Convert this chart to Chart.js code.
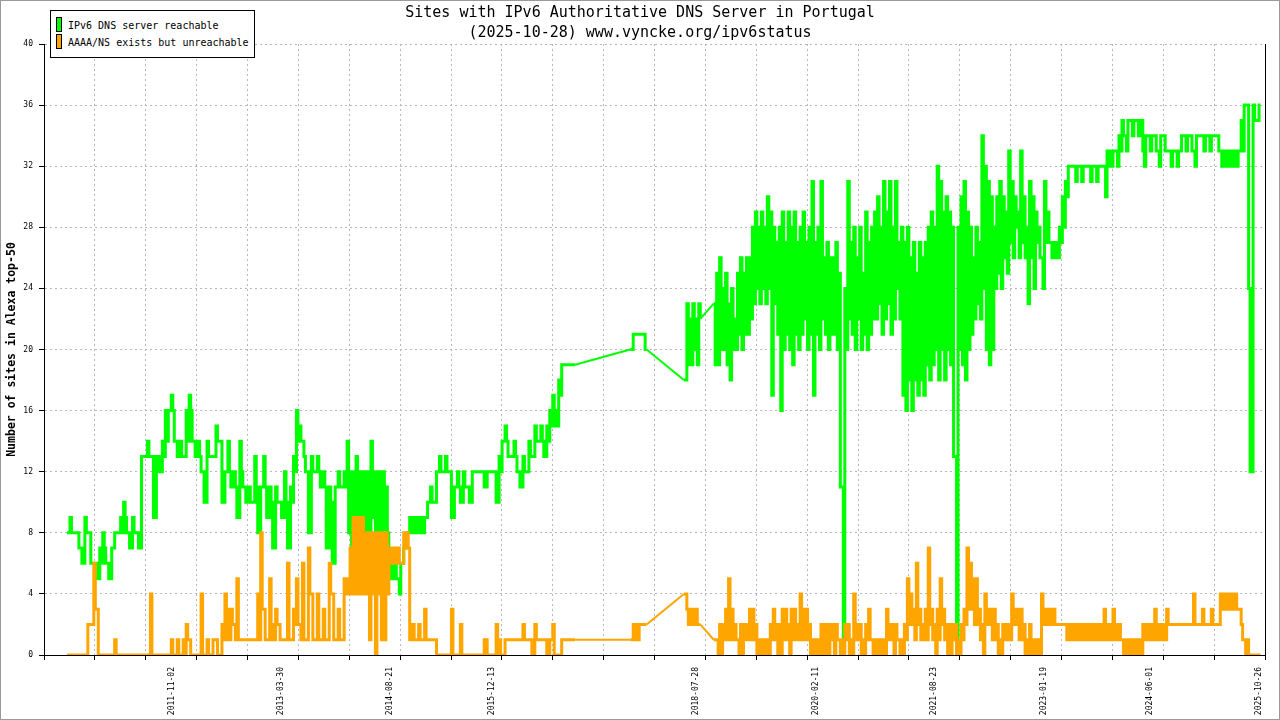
<!DOCTYPE html>
<html>
<head>
<meta charset="utf-8">
<title>Sites with IPv6 Authoritative DNS Server in Portugal</title>
<script src="https://cdn.jsdelivr.net/npm/chart.js"></script>
<style>
  body { margin: 0; background: #fff; }
  #wrap { position: relative; width: 1280px; height: 720px; }
  #frame { position: absolute; left: 0; top: 0; width: 1280px; height: 720px; box-sizing: border-box; border: 1px solid #999; pointer-events: none; }
  #legend { position: absolute; left: 50px; top: 10px; width: 205px; height: 48px; box-sizing: border-box; border: 1px solid #000; background: #fff; font: 10px "DejaVu Sans Mono", monospace; color: #000; }
  .item { position: absolute; left: 5px; height: 15px; line-height: 18px; white-space: nowrap; }
  .sw { display: inline-block; width: 4px; height: 13px; border: 1px solid #000; vertical-align: top; margin-right: 6px; }
</style>
</head>
<body>
<div id="wrap">
  <canvas id="chart" width="1280" height="720"></canvas>
  <div id="legend"></div>
  <div id="frame"></div>
</div>
<script>
// one reading window every 14 days, the last one on sampleEnd;
// highest and lowest count seen in each window, null = no data
const sampleEnd = '2025-10-26';
const sampleStepDays = 14;

const reachableMax = [
  8,9,8,8,7,6,9,8,6,6,
  5,7,8,6,5,7,8,8,9,10,
  8,7,9,8,7,13,13,14,13,9,
  13,12,14,16,16,17,14,13,14,13,
  16,17,14,13,14,12,10,14,13,13,
  15,14,10,12,14,11,12,9,14,11,
  10,11,10,13,8,11,13,9,11,7,
  11,10,9,12,7,11,13,16,15,14,
  12,8,13,12,13,11,12,7,11,6,
  11,12,11,12,14,12,12,13,12,12,
  12,12,14,12,12,12,12,11,6,6,
  6,5,6,7,8,9,9,9,9,9,
  9,10,11,10,12,13,12,13,12,9,
  11,12,10,12,11,10,12,12,12,12,
  11,12,12,12,10,13,14,15,13,13,
  14,12,11,13,12,14,13,15,14,15,
  13,15,16,17,15,18,19,19,19,19,
  19,null,null,null,null,null,null,null,null,null,
  null,null,null,null,null,null,null,null,null,20,
  21,21,21,21,20,null,null,null,null,null,
  null,null,null,null,null,null,null,18,23,22,
  23,22,23,null,null,null,null,23,25,26,
  24,25,23,24,22,25,26,25,26,26,
  28,29,28,29,28,30,29,28,27,28,
  29,27,29,28,29,27,28,29,27,28,
  31,27,28,31,26,27,26,26,27,25,
  11,24,31,27,28,26,28,25,29,27,
  28,29,30,28,31,29,31,28,31,27,
  28,27,28,26,27,25,27,26,27,28,
  29,28,32,31,29,30,29,28,13,28,
  30,31,29,28,26,28,27,34,32,31,
  30,28,30,31,30,29,33,31,30,29,
  33,30,28,31,30,29,28,26,31,29,
  27,27,27,28,30,31,32,32,32,32,
  32,32,32,32,32,32,32,32,32,33,
  33,33,33,34,35,34,35,35,35,35,
  35,33,34,34,34,34,33,34,34,33,
  33,33,33,33,34,34,34,34,33,34,
  34,34,34,34,34,34,34,33,33,33,
  33,33,33,33,35,36,36,12,36,35,
  36
];
const reachableMin = [
  8,8,8,8,7,6,8,8,6,6,
  5,6,7,6,5,7,8,8,8,9,
  8,7,8,8,7,13,13,13,13,9,
  13,12,13,14,16,16,14,13,13,13,
  14,16,14,13,13,12,10,13,13,13,
  14,14,10,12,12,11,11,9,12,11,
  10,10,10,11,8,11,11,9,10,7,
  10,10,9,10,7,10,12,14,14,13,
  12,8,12,12,12,11,11,7,10,6,
  11,11,11,11,8,7,8,7,8,7,
  7,8,9,7,8,7,8,8,5,5,
  5,4,6,7,8,8,8,8,8,8,
  9,10,10,10,12,12,12,12,12,9,
  11,11,10,11,11,10,12,12,12,12,
  11,12,12,12,10,12,14,14,13,13,
  13,12,11,12,12,13,13,14,14,14,
  13,14,15,16,15,17,19,19,19,19,
  19,null,null,null,null,null,null,null,null,null,
  null,null,null,null,null,null,null,null,null,20,
  21,21,21,21,20,null,null,null,null,null,
  null,null,null,null,null,null,null,18,19,19,
  20,19,22,null,null,null,null,19,19,20,
  20,19,18,20,20,21,20,21,21,22,
  23,24,23,24,23,24,17,23,21,16,
  20,21,20,19,21,20,21,22,20,21,
  17,21,20,22,21,20,21,21,20,11,
  1,20,22,21,20,22,20,21,20,21,
  22,22,23,21,22,23,21,22,24,22,
  17,16,18,16,18,17,18,17,19,18,
  19,20,18,20,18,20,19,13,0,20,
  19,18,20,21,22,23,22,24,20,19,
  20,24,25,24,26,25,27,26,28,26,
  27,26,23,26,24,27,26,24,27,27,
  26,26,26,27,28,30,32,32,31,32,
  31,32,32,31,32,31,32,32,30,32,
  32,33,32,33,34,33,35,34,35,34,
  35,32,34,33,34,33,32,34,33,33,
  32,33,32,33,34,33,34,33,32,34,
  34,33,34,33,34,34,33,32,32,32,
  32,32,32,33,33,36,24,12,35,35,
  36
];

const unreachableMax = [
  0,0,0,0,0,0,0,2,2,6,
  3,0,0,0,0,0,1,0,0,0,
  0,0,0,0,0,0,0,0,4,0,
  0,0,0,0,0,1,0,1,0,1,
  2,1,0,0,0,4,0,1,0,1,
  1,0,2,4,1,3,2,5,1,1,
  1,1,1,1,4,8,3,1,5,1,
  3,2,1,1,6,1,3,5,2,6,
  1,7,4,1,4,1,3,1,6,4,
  1,3,1,5,5,7,9,9,9,9,
  8,8,8,8,8,8,8,8,7,7,
  7,7,6,8,8,1,2,1,2,1,
  3,1,1,1,0,0,0,0,0,3,
  0,0,2,0,0,0,0,0,0,0,
  1,0,0,0,2,1,0,1,1,1,
  1,1,1,2,1,1,0,2,1,1,
  1,0,1,2,0,0,1,1,1,1,
  1,null,null,null,null,null,null,null,null,null,
  null,null,null,null,null,null,null,null,null,1,
  2,1,2,2,2,null,null,null,null,null,
  null,null,null,null,null,null,null,4,3,3,
  3,3,2,null,null,null,null,1,1,2,
  2,3,5,3,2,1,2,2,2,3,
  3,2,1,1,1,1,2,3,2,2,
  3,3,2,3,3,2,4,3,3,2,
  1,1,1,2,2,2,2,2,2,1,
  1,2,2,1,4,2,2,1,2,3,
  1,1,1,1,1,3,2,2,2,1,
  1,2,5,4,3,6,3,2,3,7,
  3,2,3,5,3,2,2,2,2,1,
  2,3,7,6,5,5,3,2,4,3,
  3,3,2,1,2,2,2,4,3,3,
  3,2,1,2,1,1,1,4,3,3,
  3,3,2,2,2,2,2,2,2,2,
  2,2,2,2,2,2,2,2,3,2,
  2,3,2,2,1,1,1,1,1,1,
  1,2,2,2,2,3,2,2,2,3,
  2,2,2,2,2,2,2,2,4,2,
  2,3,2,2,3,2,2,4,4,4,
  4,4,4,3,2,1,1,0,0,0,
  0
];
const unreachableMin = [
  0,0,0,0,0,0,0,2,2,3,
  0,0,0,0,0,0,0,0,0,0,
  0,0,0,0,0,0,0,0,0,0,
  0,0,0,0,0,0,0,0,0,0,
  1,0,0,0,0,0,0,0,0,1,
  0,0,1,3,1,2,1,1,1,1,
  1,1,1,1,1,3,1,1,2,1,
  2,1,1,1,1,1,2,2,1,1,
  1,4,1,1,1,1,1,1,4,1,
  1,1,1,4,4,4,4,4,4,4,
  4,1,4,0,4,1,1,4,6,6,
  6,6,6,7,7,1,1,1,1,1,
  1,1,1,1,0,0,0,0,0,0,
  0,0,0,0,0,0,0,0,0,0,
  1,0,0,0,0,0,0,1,1,1,
  1,1,1,1,1,1,0,1,1,1,
  1,0,1,0,0,0,1,1,1,1,
  1,null,null,null,null,null,null,null,null,null,
  null,null,null,null,null,null,null,null,null,1,
  2,1,2,2,2,null,null,null,null,null,
  null,null,null,null,null,null,null,4,2,2,
  2,2,2,null,null,null,null,1,0,0,
  1,1,1,1,1,0,0,1,1,1,
  1,0,0,0,0,0,1,1,0,0,
  1,1,0,1,1,1,1,1,1,0,
  0,0,0,0,0,0,1,0,1,0,
  0,1,0,0,1,1,0,0,1,1,
  0,0,0,0,0,1,1,0,1,0,
  0,1,2,2,1,2,1,1,1,2,
  1,0,1,2,1,0,0,1,0,0,
  1,2,3,3,2,2,1,0,2,2,
  1,1,0,0,1,1,1,2,2,1,
  1,0,0,0,0,0,0,2,2,2,
  2,2,2,2,2,1,1,1,1,1,
  1,1,1,1,1,1,1,1,1,1,
  1,1,1,1,0,0,0,0,0,0,
  0,1,1,1,1,1,1,1,1,2,
  2,2,2,2,2,2,2,2,2,2,
  2,2,2,2,2,2,2,3,3,3,
  3,3,3,3,1,0,0,0,0,0,
  0
];

const seriesNames = ['IPv6 DNS server reachable', 'AAAA/NS exists but unreachable'];
const seriesColors = ['#00ff00', '#ffa500'];
const tickDates = ['2011-11-02', '2013-03-30', '2014-08-21', '2015-12-13', '2018-07-28',
                   '2020-02-11', '2021-08-23', '2023-01-19', '2024-06-01', '2025-10-26'];
const axisStart = '2010-03-11';
const axisEnd = '2025-11-23';
const titleLines = ['Sites with IPv6 Authoritative DNS Server in Portugal', '(2025-10-28) www.vyncke.org/ipv6status'];

const FONT = "'DejaVu Sans Mono', 'Liberation Mono', monospace";

function dayOf(s) { return Date.parse(s + 'T00:00:00Z') / 864e5; }
const endDay = dayOf(sampleEnd);

// max at the start of each window, min half a window later
function windowPoints(maxVals, minVals) {
  const n = maxVals.length, pts = [];
  for (let i = 0; i < n; i++) {
    const t = endDay - (n - 1 - i) * sampleStepDays;
    pts.push({x: t, y: maxVals[i]}, {x: t + sampleStepDays / 2, y: minVals[i]});
  }
  return pts;
}
// straight joins across the stretches with no data
function gapLinks(pts) {
  const out = [];
  for (let i = 1; i < pts.length; i++) {
    if (pts[i].y === null && pts[i - 1].y !== null) {
      let j = i;
      while (j < pts.length && pts[j].y === null) j++;
      if (j < pts.length) out.push(pts[i - 1], pts[j], {x: pts[j].x, y: null});
    }
  }
  return out;
}

const greenPts = windowPoints(reachableMax, reachableMin);
const orangePts = windowPoints(unreachableMax, unreachableMin);

const xMin = dayOf(axisStart), xMax = dayOf(axisEnd);
const gridTicks = [];
for (let k = 0; k <= 24; k++) gridTicks.push({value: xMin + k * (xMax - xMin) / 24});

function lineSet(label, data, color, order, stepped, width) {
  return {
    label: label, data: data, borderColor: color, backgroundColor: color,
    borderWidth: width, pointRadius: 0, stepped: stepped, spanGaps: false,
    tension: 0, order: order, xAxisID: 'x', yAxisID: 'y'
  };
}

const chart = new Chart(document.getElementById('chart'), {
  type: 'line',
  data: {
    datasets: [
      lineSet(seriesNames[0], greenPts, seriesColors[0], 4, true, 3),
      lineSet(seriesNames[1], orangePts, seriesColors[1], 1, true, 3),
      lineSet('', gapLinks(greenPts), seriesColors[0], 3, false, 2),
      lineSet('', gapLinks(orangePts), seriesColors[1], 2, false, 2)
    ]
  },
  options: {
    responsive: false,
    animation: false,
    events: [],
    layout: { padding: 0 },
    plugins: {
      legend: { display: false },
      tooltip: { enabled: false },
      title: {
        display: true, text: titleLines, color: '#000',
        font: { family: FONT, size: 15, weight: 'normal', lineHeight: '20px' },
        padding: { top: 3, bottom: 1 }
      }
    },
    scales: {
      x: {
        type: 'linear', position: 'bottom', min: xMin, max: xMax,
        afterBuildTicks: s => { s.ticks = gridTicks.slice(); },
        ticks: { display: false },
        grid: { color: '#b8b8b8', tickColor: '#000', tickLength: 5 },
        border: { display: true, color: '#000', width: 1, dash: [2, 3] },
        afterFit: s => { s.height = 6; }
      },
      x2: {
        type: 'linear', position: 'bottom', min: xMin, max: xMax,
        afterBuildTicks: s => { s.ticks = tickDates.map(d => ({value: dayOf(d)})); },
        ticks: {
          autoSkip: false, minRotation: 90, maxRotation: 90, padding: 6,
          font: { family: FONT, size: 8 }, color: '#000',
          callback: (v, i) => tickDates[i]
        },
        grid: { display: false, drawTicks: false },
        border: { display: false },
        afterFit: s => { s.height = 59; }
      },
      y: {
        min: 0, max: 40,
        ticks: { stepSize: 4, font: { family: FONT, size: 8 }, color: '#000', padding: 6 },
        grid: { color: '#b8b8b8', tickColor: '#000', tickLength: 5 },
        border: { display: true, color: '#000', width: 1, dash: [2, 3] },
        title: {
          display: true, text: 'Number of sites in Alexa top-50', color: '#000',
          font: { family: FONT, size: 11.5, weight: 'bold' },
          padding: { top: 5.5, bottom: 0 }
        },
        afterFit: s => { s.width = 44; }
      },
      y2: {
        position: 'right', min: 0, max: 40,
        ticks: { display: false },
        grid: { display: false },
        border: { display: true, color: '#000', width: 1 },
        afterFit: s => { s.width = 15; }
      }
    }
  }
});

// legend box drawn over the plot, top left
const legend = document.getElementById('legend');
seriesNames.forEach((name, k) => {
  const item = document.createElement('div');
  item.className = 'item';
  item.style.top = (6 + k * 17) + 'px';
  item.innerHTML = '<span class="sw" style="background:' + seriesColors[k] + '"></span>' + name;
  legend.appendChild(item);
});
</script>
</body>
</html>
